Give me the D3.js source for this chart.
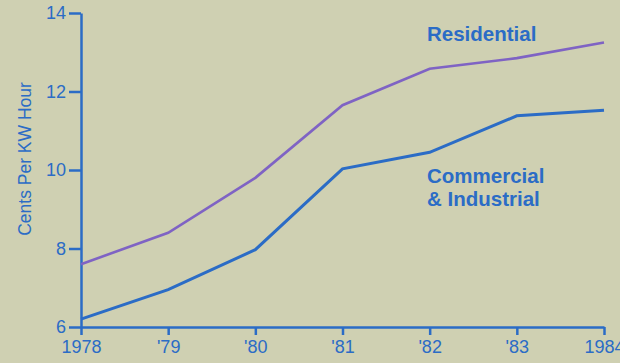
<!DOCTYPE html>
<html><head><meta charset="utf-8">
<script src="https://cdn.jsdelivr.net/npm/d3@7"></script>
<style>
html,body{margin:0;padding:0;background:#cfd0b2;}
svg{display:block;}
</style></head>
<body>
<svg id="c" width="620" height="363"></svg>
<script>
const years = [1978, 1979, 1980, 1981, 1982, 1983, 1984];
const yearLabels = ["1978", "'79", "'80", "'81", "'82", "'83", "1984"];
const residential = [7.6, 8.4, 9.8, 11.65, 12.58, 12.85, 13.25];
const commercial = [6.2, 6.95, 7.97, 10.03, 10.45, 11.38, 11.52];
const yTicks = [6, 8, 10, 12, 14];
const seriesNames = ["Residential", "Commercial", "& Industrial"];

const blue = "#2b6cc6", purple = "#7f63c4";
const svg = d3.select("#c");
const x = d3.scaleLinear().domain([1978, 1984]).range([81, 604]);
const y = d3.scaleLinear().domain([6, 14]).range([327, 13]);
const font = "Helvetica, Arial, 'Liberation Sans', sans-serif";

const xAxis = svg.append("g").attr("transform", "translate(0,327)")
  .call(d3.axisBottom(x).tickValues(years).tickFormat((d,i)=>yearLabels[i]).tickSize(8).tickSizeOuter(0).tickPadding(4));
const yAxis = svg.append("g").attr("transform", "translate(81,0)")
  .call(d3.axisLeft(y).tickValues(yTicks).tickSize(12).tickSizeOuter(0).tickPadding(3));
[xAxis, yAxis].forEach(a => {
  a.selectAll("path.domain").attr("stroke", blue).attr("stroke-width", 2.5);
  a.selectAll(".tick line").attr("stroke", blue).attr("stroke-width", 2.5);
  a.selectAll(".tick text").attr("fill", blue).attr("font-size", 18).attr("font-family", font);
});
xAxis.selectAll(".tick text").attr("dy", "0.8em");

const line = d3.line().x((d,i)=>x(years[i])).y(d=>y(d));
svg.append("path").datum(residential).attr("d", line).attr("fill","none").attr("stroke", purple).attr("stroke-width", 2.6);
svg.append("path").datum(commercial).attr("d", line).attr("fill","none").attr("stroke", blue).attr("stroke-width", 3);

svg.append("text").attr("transform","translate(31,159) rotate(-90)").attr("text-anchor","middle")
  .attr("fill", blue).attr("font-size", 17.5).attr("font-family", font).text("Cents Per KW Hour");

const lab = svg.append("g").attr("fill", blue).attr("font-size", 20.5).attr("font-weight","bold").attr("font-family", font);
lab.append("text").attr("x", 427).attr("y", 41).text(seriesNames[0]);
lab.append("text").attr("x", 427).attr("y", 183).text(seriesNames[1]);
lab.append("text").attr("x", 427).attr("y", 206).text(seriesNames[2]);
</script>
</body></html>
